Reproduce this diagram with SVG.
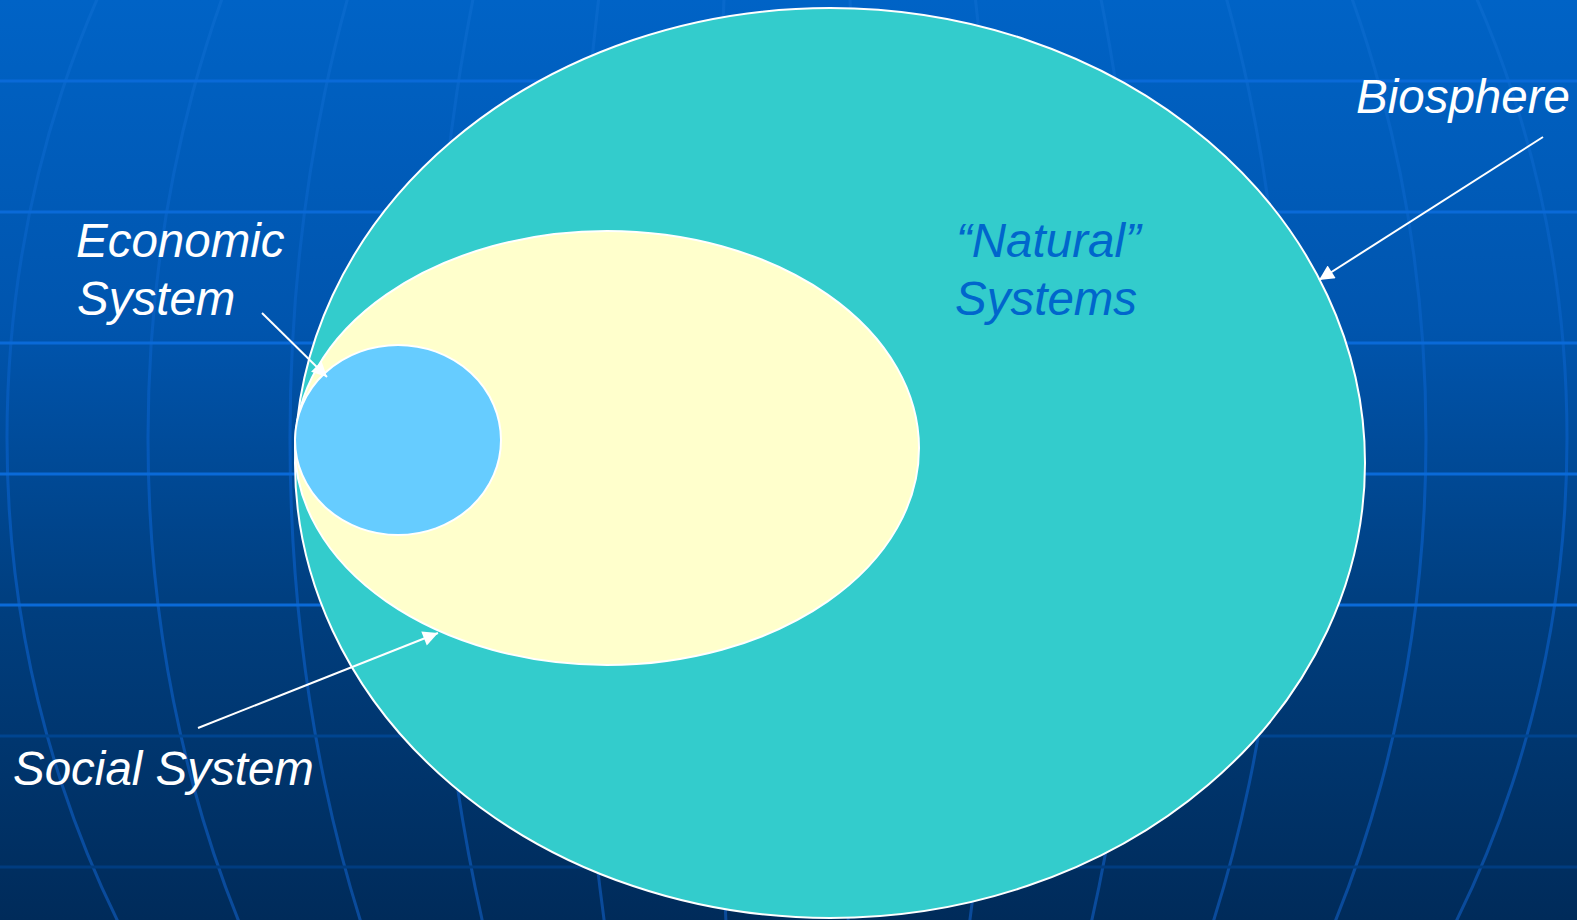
<svg xmlns="http://www.w3.org/2000/svg" width="1577" height="920" viewBox="0 0 1577 920">
  <defs>
    <linearGradient id="bg" x1="0" y1="0" x2="0" y2="1">
      <stop offset="0" stop-color="#0063c6"/>
      <stop offset="0.35" stop-color="#0055ae"/>
      <stop offset="0.65" stop-color="#003f80"/>
      <stop offset="1" stop-color="#002b5a"/>
    </linearGradient>
    <linearGradient id="mer" gradientUnits="userSpaceOnUse" x1="0" y1="0" x2="0" y2="920">
      <stop offset="0" stop-color="#0869cc"/>
      <stop offset="0.5" stop-color="#0558b8"/>
      <stop offset="1" stop-color="#0a4a9a"/>
    </linearGradient>
    <marker id="arrow" viewBox="0 0 10 10" refX="10" refY="5" markerWidth="9" markerHeight="7.5" orient="auto" markerUnits="strokeWidth">
      <path d="M0,0 L10,5 L0,10 Z" fill="#ffffff"/>
    </marker>
    <style>
      .hline { stroke: #0a6ad8; stroke-width: 3; }
      .meridian { fill: none; stroke: url(#mer); stroke-width: 3; }
      .shape { stroke: #ffffff; stroke-width: 2; }
      .label { font-family: "Liberation Sans", Arial, sans-serif; font-style: italic; font-size: 47.5px; fill: #ffffff; }
      .natural { fill: #0066cc; }
      .conn { stroke: #ffffff; stroke-width: 2; fill: none; marker-end: url(#arrow); }
    </style>
  </defs>

  <!-- background -->
  <rect x="0" y="0" width="1577" height="920" fill="url(#bg)"/>
  <g id="grid">
    <ellipse class="meridian" cx="787" cy="438" rx="71" ry="940"/>
    <ellipse class="meridian" cx="787" cy="438" rx="213" ry="940"/>
    <ellipse class="meridian" cx="787" cy="438" rx="355" ry="940"/>
    <ellipse class="meridian" cx="787" cy="438" rx="497" ry="940"/>
    <ellipse class="meridian" cx="787" cy="438" rx="639" ry="940"/>
    <ellipse class="meridian" cx="787" cy="438" rx="780" ry="940"/>
    <line class="hline" x1="0" y1="81" x2="1577" y2="81"/>
    <line class="hline" x1="0" y1="212" x2="1577" y2="212"/>
    <line class="hline" x1="0" y1="343" x2="1577" y2="343"/>
    <line class="hline" x1="0" y1="474" x2="1577" y2="474"/>
    <line class="hline" x1="0" y1="605" x2="1577" y2="605"/>
    <line x1="0" y1="736" x2="1577" y2="736" stroke="#004590" stroke-width="3"/>
    <line x1="0" y1="867" x2="1577" y2="867" stroke="#003c80" stroke-width="3"/>
  </g>

  <g id="biosphere">
    <ellipse class="shape" cx="830" cy="463" rx="535" ry="455" fill="#33cccc"/>
  </g>
  <g id="social-system">
    <ellipse class="shape" cx="607" cy="448" rx="312" ry="217" fill="#ffffcc"/>
  </g>
  <g id="economic-system">
    <ellipse class="shape" cx="398" cy="440" rx="103" ry="95" fill="#66ccff"/>
  </g>

  <g id="label-economic">
    <text class="label" x="76" y="257">Economic</text>
    <text class="label" x="77" y="315">System</text>
  </g>
  <g id="label-natural">
    <text class="label natural" x="956" y="257">“Natural”</text>
    <text class="label natural" x="955" y="315">Systems</text>
  </g>
  <g id="label-biosphere">
    <text class="label" x="1356" y="113">Biosphere</text>
  </g>
  <g id="label-social">
    <text class="label" x="13" y="785">Social System</text>
  </g>

  <g id="connectors">
    <line class="conn" x1="262" y1="313" x2="327" y2="377"/>
    <line class="conn" x1="198" y1="728" x2="438" y2="633"/>
    <line class="conn" x1="1543" y1="137" x2="1319" y2="280"/>
  </g>
</svg>
